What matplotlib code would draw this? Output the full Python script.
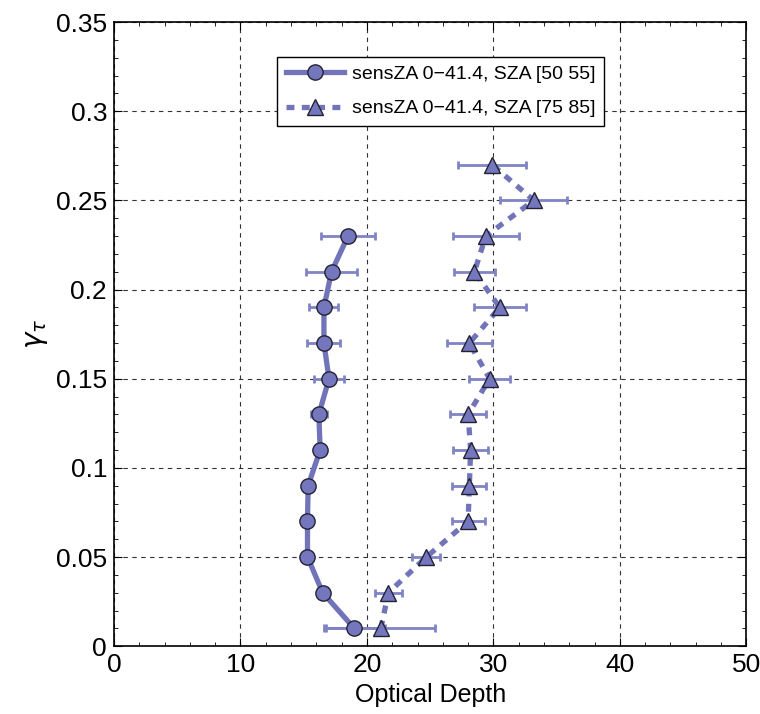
import matplotlib
matplotlib.use("Agg")
import matplotlib.pyplot as plt
from matplotlib.ticker import MultipleLocator

plt.rcParams['font.family'] = ['Liberation Sans', 'DejaVu Sans']
plt.rcParams['mathtext.fontset'] = 'dejavusans'

# Series 1: sensZA 0-41.4, SZA [50 55]
gamma1 = [0.01, 0.03, 0.05, 0.07, 0.09, 0.11, 0.13, 0.15, 0.17, 0.19, 0.21, 0.23]
tau1 = [19.0, 16.5, 15.3, 15.3, 15.35, 16.3, 16.2, 17.0, 16.6, 16.6, 17.2, 18.5]
err1 = [2.4, 0.3, 0.3, 0.3, 0.3, 0.35, 0.65, 1.15, 1.3, 1.15, 2.05, 2.1]

# Series 2: sensZA 0-41.4, SZA [75 85]
gamma2 = [0.01, 0.03, 0.05, 0.07, 0.09, 0.11, 0.13, 0.15, 0.17, 0.19, 0.21, 0.23, 0.25, 0.27]
tau2 = [21.1, 21.7, 24.7, 28.0, 28.1, 28.2, 28.0, 29.7, 28.1, 30.5, 28.5, 29.4, 33.2, 29.9]
err2 = [4.3, 1.05, 1.1, 1.3, 1.35, 1.4, 1.45, 1.6, 1.8, 2.05, 1.65, 2.6, 2.65, 2.7]

labels = ['sensZA 0\u221241.4, SZA [50 55]', 'sensZA 0\u221241.4, SZA [75 85]']

line_col = '#7274ba'
err_col = '#8083c4'
face_col = '#7477bd'

fig = plt.figure(figsize=(7.6, 7.14), dpi=100)
ax = fig.add_axes([0.150, 0.095, 0.832, 0.874])

ax.errorbar(tau1, gamma1, xerr=err1, fmt='none', ecolor=err_col, elinewidth=2,
            capsize=3, capthick=2, zorder=2)
ax.errorbar(tau2, gamma2, xerr=err2, fmt='none', ecolor=err_col, elinewidth=2,
            capsize=3, capthick=2, zorder=2)
l1, = ax.plot(tau1, gamma1, '-', color=line_col, lw=3.8, marker='o', ms=11,
              mfc=face_col, mec='#222233', mew=1.0, zorder=3, label=labels[0])
l2, = ax.plot(tau2, gamma2, '--', color=line_col, lw=3.8, marker='^', ms=12,
              mfc=face_col, mec='#222233', mew=1.0, zorder=3, label=labels[1],
              dashes=(1.5, 1.4))

ax.set_xlim(0, 50)
ax.set_ylim(0, 0.35)
ax.xaxis.set_major_locator(MultipleLocator(10))
ax.xaxis.set_minor_locator(MultipleLocator(2))
ax.yaxis.set_minor_locator(MultipleLocator(0.01))
ax.set_yticks([0, 0.05, 0.1, 0.15, 0.2, 0.25, 0.3, 0.35])
ax.set_yticklabels(['0', '0.05', '0.1', '0.15', '0.2', '0.25', '0.3', '0.35'])
ax.tick_params(which='both', direction='in', top=True, right=True)
ax.tick_params(which='major', length=6, labelsize=19, pad=5)
ax.tick_params(which='minor', length=3)
ax.grid(True, which='major', linestyle=(0, (4, 4)), color='#333333', linewidth=0.8)
for s in ax.spines.values():
    s.set_linewidth(1.2)

ax.set_xlabel('Optical Depth', fontsize=18, labelpad=4)
ax.set_ylabel(r'$\gamma_\tau$', fontsize=20, labelpad=4)

leg = ax.legend(loc='upper left', bbox_to_anchor=(0.243, 0.96), fontsize=14,
                frameon=True, fancybox=False, edgecolor='black', framealpha=1,
                handlelength=3.0, borderpad=0.45, labelspacing=0.85, handletextpad=0.4)
leg.get_frame().set_linewidth(1.0)

fig.savefig('out.png', dpi=100)
